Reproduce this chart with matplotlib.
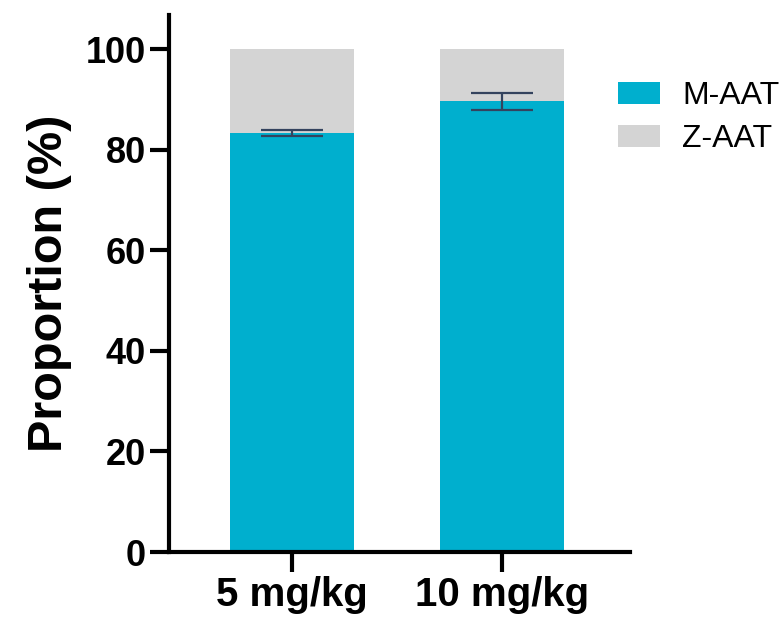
import matplotlib
matplotlib.use("Agg")
import matplotlib.pyplot as plt
import numpy as np

plt.rcParams["font.family"] = ["Liberation Sans", "DejaVu Sans"]

# data
doses = ["5 mg/kg", "10 mg/kg"]
m_aat = [83.3, 89.6]
m_aat_err = [0.65, 1.6]
z_aat = [100 - v for v in m_aat]
series_labels = ["M-AAT", "Z-AAT"]
y_ticks = [0, 20, 40, 60, 80, 100]

teal = "#00AFCE"
grey = "#D4D4D4"
err_col = "#34435E"

fig = plt.figure(figsize=(7.82, 6.22), dpi=100)
ax = fig.add_axes([169 / 782, 70 / 622, 461 / 782, 537 / 622])

x = np.arange(len(doses))
ax.bar(x, m_aat, width=0.59, color=teal, label=series_labels[0], zorder=2)
ax.bar(x, z_aat, width=0.59, bottom=m_aat, color=grey, label=series_labels[1], zorder=2)
ax.errorbar(x, m_aat, yerr=m_aat_err, fmt="none", ecolor=err_col,
            elinewidth=1.6, capsize=22.5, capthick=1.6, zorder=3)

ax.set_xlim(-0.586, 1.61)
ax.set_ylim(0, 106.8)
ax.set_xticks(x)
ax.set_xticklabels(doses, fontsize=29, fontweight="bold")
ax.set_yticks(y_ticks)
ax.set_yticklabels([str(t) for t in y_ticks], fontsize=26, fontweight="bold")
ax.set_ylabel("Proportion (%)", fontsize=35, fontweight="bold", labelpad=10)

ax.spines[["top", "right"]].set_visible(False)
ax.spines[["left", "bottom"]].set_linewidth(3)
ax.tick_params(axis="x", length=14.4, width=3, pad=3)
ax.tick_params(axis="y", length=13.7, width=3, pad=3)

ax.legend(loc="upper left", bbox_to_anchor=(618 / 782, 1 - 81 / 622),
          bbox_transform=fig.transFigure, frameon=False, fontsize=23,
          handlelength=1.31, handleheight=0.66, handletextpad=0.7,
          labelspacing=0.41, borderpad=0, borderaxespad=0)

fig.savefig("out.png", dpi=100)
